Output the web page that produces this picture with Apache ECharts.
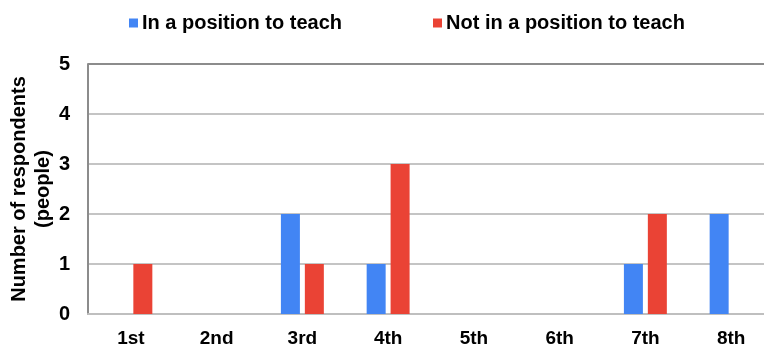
<!DOCTYPE html>
<html><head><meta charset="utf-8">
<script src="https://cdn.jsdelivr.net/npm/echarts@6/dist/echarts.min.js"></script>
<style>html,body{margin:0;padding:0;background:#fff}#c{width:764px;height:349px}</style>
</head><body><div id="c"></div>
<script>
const categories = ['1st','2nd','3rd','4th','5th','6th','7th','8th'];
const inPosition = [0,0,2,1,0,0,1,2];
const notInPosition = [1,0,1,3,0,0,2,0];
const yTicks = [0,1,2,3,4,5];

const chart = echarts.init(document.getElementById('c'));
const font = 'Liberation Sans, Arial, sans-serif';
chart.setOption({
  animation: false,
  textStyle: {fontFamily: font},
  legend: {
    top: 8, left: 124,
    itemWidth: 9, itemHeight: 9, itemGap: 91,
    icon: 'rect',
    itemStyle: {borderWidth: 0},
    textStyle: {fontSize: 20, fontWeight: 'bold', color: '#000', fontFamily: font, padding: [0,0,0,-1]},
    data: ['In a position to teach','Not in a position to teach']
  },
  grid: {left: 88, right: -10, top: 64, bottom: 35, containLabel: false, outerBoundsMode: 'none'},
  xAxis: {
    type: 'category', data: categories,
    axisLine: {lineStyle: {color: '#bfbfbf', width: 2}},
    axisTick: {show: false},
    axisLabel: {fontSize: 19, fontWeight: 'bold', color: '#000', margin: 15, fontFamily: font}
  },
  yAxis: {
    type: 'value', min: 0, max: 5, interval: 1,
    name: 'Number of respondents\n(people)',
    nameLocation: 'middle', nameRotate: 90, nameGap: 33, nameMoveOverlap: false,
    nameTextStyle: {fontSize: 20, fontWeight: 'bold', color: '#000', lineHeight: 24, fontFamily: font},
    axisLine: {show: true, lineStyle: {color: '#8c8c8c', width: 2}},
    axisTick: {show: false},
    axisLabel: {fontSize: 20, fontWeight: 'bold', color: '#000', margin: 18, fontFamily: font,
      formatter: v => yTicks.includes(v) ? String(v) : ''},
    splitLine: {lineStyle: {color: ['#c4c4c4','#c4c4c4','#c4c4c4','#c4c4c4','#c4c4c4','#8c8c8c'], width: 2}}
  },
  series: [
    {name: 'In a position to teach', type: 'bar', data: inPosition, barWidth: 19, barGap: '26%',
     itemStyle: {color: '#4285f4'}},
    {name: 'Not in a position to teach', type: 'bar', data: notInPosition, barWidth: 19,
     itemStyle: {color: '#ea4335'}}
  ]
});
</script></body></html>
